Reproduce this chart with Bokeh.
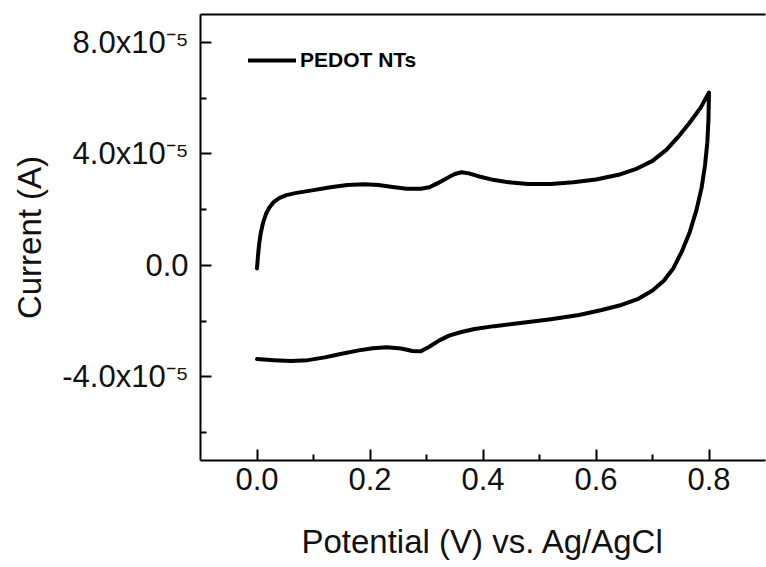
from bokeh.plotting import figure
from bokeh.models import Range1d, FixedTicker, LinearAxis, Legend, LegendItem
from bokeh.embed import file_html
from bokeh.resources import INLINE

# Forward (anodic) sweep: potential (V) and current (A)
fwd_v = [0.000, 0.002, 0.004, 0.007, 0.011, 0.016, 0.022, 0.030, 0.040, 0.052,
         0.070, 0.100, 0.130, 0.160, 0.190, 0.215, 0.240, 0.265, 0.290, 0.305,
         0.320, 0.335, 0.350, 0.362, 0.375, 0.395, 0.420, 0.450, 0.480, 0.520,
         0.560, 0.600, 0.640, 0.670, 0.700, 0.725, 0.745, 0.765, 0.785, 0.800]
fwd_i = [-1.1e-6, 4.0e-6, 8.0e-6, 1.2e-5, 1.55e-5, 1.85e-5, 2.08e-5, 2.28e-5, 2.42e-5, 2.52e-5,
         2.6e-5, 2.7e-5, 2.8e-5, 2.88e-5, 2.91e-5, 2.88e-5, 2.81e-5, 2.75e-5, 2.75e-5, 2.8e-5,
         2.95e-5, 3.12e-5, 3.28e-5, 3.34e-5, 3.3e-5, 3.18e-5, 3.06e-5, 2.97e-5, 2.92e-5, 2.92e-5,
         2.98e-5, 3.08e-5, 3.25e-5, 3.45e-5, 3.75e-5, 4.15e-5, 4.6e-5, 5.1e-5, 5.65e-5, 6.2e-5]
# Reverse (cathodic) sweep
rev_v = [0.799, 0.797, 0.793, 0.787, 0.778, 0.766, 0.752, 0.737, 0.720, 0.700,
         0.675, 0.645, 0.610, 0.570, 0.520, 0.470, 0.420, 0.385, 0.360, 0.340,
         0.322, 0.305, 0.290, 0.275, 0.255, 0.230, 0.205, 0.180, 0.150, 0.120,
         0.090, 0.060, 0.030, 0.000]
rev_i = [5.2e-5, 4.4e-5, 3.6e-5, 2.8e-5, 2.0e-5, 1.2e-5, 5.0e-6, -1.0e-6, -5.5e-6, -9.0e-6,
         -1.2e-5, -1.42e-5, -1.6e-5, -1.78e-5, -1.93e-5, -2.06e-5, -2.18e-5, -2.28e-5, -2.4e-5, -2.52e-5,
         -2.7e-5, -2.92e-5, -3.08e-5, -3.07e-5, -2.98e-5, -2.94e-5, -2.97e-5, -3.05e-5, -3.17e-5, -3.3e-5,
         -3.4e-5, -3.43e-5, -3.4e-5, -3.36e-5]

x_start, x_end = -0.1, 0.9
y_start, y_end = -7e-5, 9e-5
x_major = [0.0, 0.2, 0.4, 0.6, 0.8]
x_minor = [0.1, 0.3, 0.5, 0.7]
x_labels = ["0.0", "0.2", "0.4", "0.6", "0.8"]
y_major = [-4e-5, 0.0, 4e-5, 8e-5]
y_minor = [-6e-5, -2e-5, 2e-5, 6e-5]
y_labels = ["-4.0x10\u207b\u2075", "0.0", "4.0x10\u207b\u2075", "8.0x10\u207b\u2075"]
series_name = "PEDOT NTs"

cv_v = fwd_v + rev_v
cv_i = fwd_i + rev_i

FONT = "Liberation Sans"
TXT = "#111111"

p = figure(width=766, height=567, output_backend="svg", toolbar_location=None,
           x_range=Range1d(x_start, x_end), y_range=Range1d(y_start, y_end),
           x_axis_location="below", y_axis_location="left")
p.min_border_left = 200
p.min_border_right = 1
p.min_border_top = 14
p.min_border_bottom = 107
p.outline_line_color = None
p.grid.visible = False
p.background_fill_color = "white"
p.border_fill_color = "white"

r = p.line(cv_v, cv_i, line_color="black", line_width=4, line_join="round", line_cap="round")

for ax, major, minor, labels in [(p.xaxis[0], x_major, x_minor, x_labels),
                                 (p.yaxis[0], y_major, y_minor, y_labels)]:
    ax.ticker = FixedTicker(ticks=major, minor_ticks=minor)
    ax.major_label_overrides = {t: l for t, l in zip(major, labels)}
    ax.axis_line_width = 2
    ax.axis_line_color = "black"
    ax.major_tick_line_width = 2
    ax.minor_tick_line_width = 2
    ax.major_tick_in = 11
    ax.major_tick_out = 0
    ax.minor_tick_in = 6
    ax.minor_tick_out = 0
    ax.major_label_text_font = FONT
    ax.major_label_text_font_size = "31px"
    ax.major_label_text_color = TXT
    ax.axis_label_text_font = FONT
    ax.axis_label_text_font_size = "33px"
    ax.axis_label_text_font_style = "normal"
    ax.axis_label_text_color = TXT

p.xaxis[0].major_label_standoff = 7
p.yaxis[0].major_label_standoff = 12
p.xaxis[0].axis_label = "Potential (V) vs. Ag/AgCl"
p.yaxis[0].axis_label = "Current (A)"
p.xaxis[0].axis_label_standoff = 30
p.yaxis[0].axis_label_standoff = 11

top = LinearAxis(ticker=FixedTicker(ticks=[]), axis_line_width=2, axis_line_color="black",
                 major_tick_out=0, major_tick_in=0, minor_tick_out=0, minor_tick_in=0,
                 major_label_text_font_size="0px", major_label_standoff=0)
p.add_layout(top, "above")

legend = Legend(items=[LegendItem(label=series_name, renderers=[r])],
                location=(48, 388), orientation="vertical")
legend.label_text_font = FONT
legend.label_text_font_style = "bold"
legend.label_text_font_size = "21px"
legend.label_text_color = "black"
legend.glyph_width = 48
legend.label_standoff = 4
legend.border_line_alpha = 0
legend.background_fill_alpha = 0
legend.margin = 0
legend.padding = 0
legend.spacing = 0
p.add_layout(legend)

open("out.html", "w").write(file_html(p, INLINE))
